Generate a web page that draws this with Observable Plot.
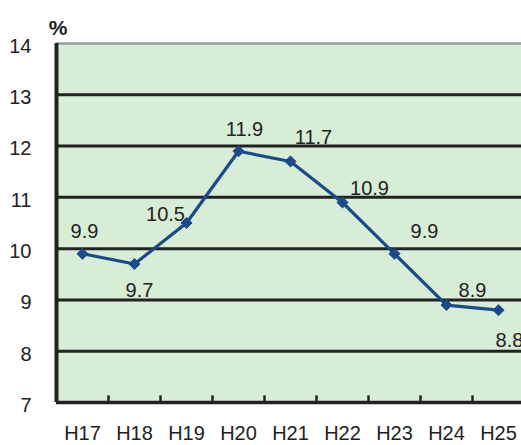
<!DOCTYPE html>
<html>
<head>
<meta charset="utf-8">
<script src="https://cdn.jsdelivr.net/npm/d3@7"></script>
<script src="https://cdn.jsdelivr.net/npm/@observablehq/plot@0.6"></script>
<style>
  html, body { margin: 0; padding: 0; background: #fff; }
  svg { display: block; }
</style>
</head>
<body>
<div id="chart"></div>
<script>
const categories = ["H17", "H18", "H19", "H20", "H21", "H22", "H23", "H24", "H25"];
const values = [9.9, 9.7, 10.5, 11.9, 11.7, 10.9, 9.9, 8.9, 8.8];
const valueLabels = ["9.9", "9.7", "10.5", "11.9", "11.7", "10.9", "9.9", "8.9", "8.8"];
const yTicks = [7, 8, 9, 10, 11, 12, 13, 14];
const gridValues = [8, 9, 10, 11, 12, 13];
// label offsets (pixels) relative to each point
const labelDx = [2, 5, -21, 6, 23, 27, 30, 26, 11];
const labelDy = [-22, 27, -8, -22, -24, -14, -22, -14, 30];

const rows = categories.map((c, i) => ({i, cat: c, value: values[i], label: valueLabels[i]}));
const boundaries = categories.slice(0, -1).map((c, i) => i + 0.5);

const font = "'Liberation Sans', Arial, sans-serif";
const lineColor = "#1b4a8c";

const labelMarks = rows.map((r, k) => Plot.text([r], {
  x: "i", y: "value", text: "label",
  dx: labelDx[k], dy: labelDy[k],
  fontSize: 20, fill: "#222", fontFamily: font
}));

const chart = Plot.plot({
  width: 521,
  height: 445,
  marginLeft: 56,
  marginTop: 43,
  marginBottom: 43,
  marginRight: 0,
  style: {fontFamily: font, background: "#fff", overflow: "hidden"},
  x: {type: "linear", domain: [-0.5, categories.length - 0.5], range: [56, 524]},
  y: {domain: [7, 14]},
  marks: [
    Plot.frame({fill: "#d7edd6", stroke: null}),
    ...labelMarks,
    Plot.ruleY(gridValues, {stroke: "#222", strokeWidth: 3}),
    Plot.ruleY([14], {stroke: "#9a9a9a", strokeWidth: 2.5}),
    Plot.ruleX(boundaries, {y1: 7, y2: 7.13, stroke: "#222", strokeWidth: 2.5}),
    Plot.ruleY([7], {stroke: "#222", strokeWidth: 3.5}),
    Plot.ruleX([-0.5], {y1: 7, y2: 14, stroke: "#222", strokeWidth: 4}),
    Plot.axisY({ticks: yTicks, tickFormat: d3.format("d"), tickSize: 0, tickPadding: 25, dy: 3, fontSize: 20, fill: "#222", label: null}),
    Plot.axisX({ticks: rows.map(r => r.i), tickFormat: i => categories[i], tickSize: 0, tickPadding: 23, fontSize: 20, fill: "#222", label: null}),
    Plot.text(["%"], {frameAnchor: "top-left", dx: 1.5, dy: -23, fontSize: 21, fontWeight: "bold", fill: "#222", textAnchor: "middle"}),
    Plot.line(rows, {x: "i", y: "value", stroke: lineColor, strokeWidth: 3.2}),
    Plot.dot(rows, {x: "i", y: "value", symbol: "diamond2", r: 5, fill: lineColor, stroke: lineColor, strokeWidth: 1})
  ]
});
document.getElementById("chart").appendChild(chart);
</script>
</body>
</html>
